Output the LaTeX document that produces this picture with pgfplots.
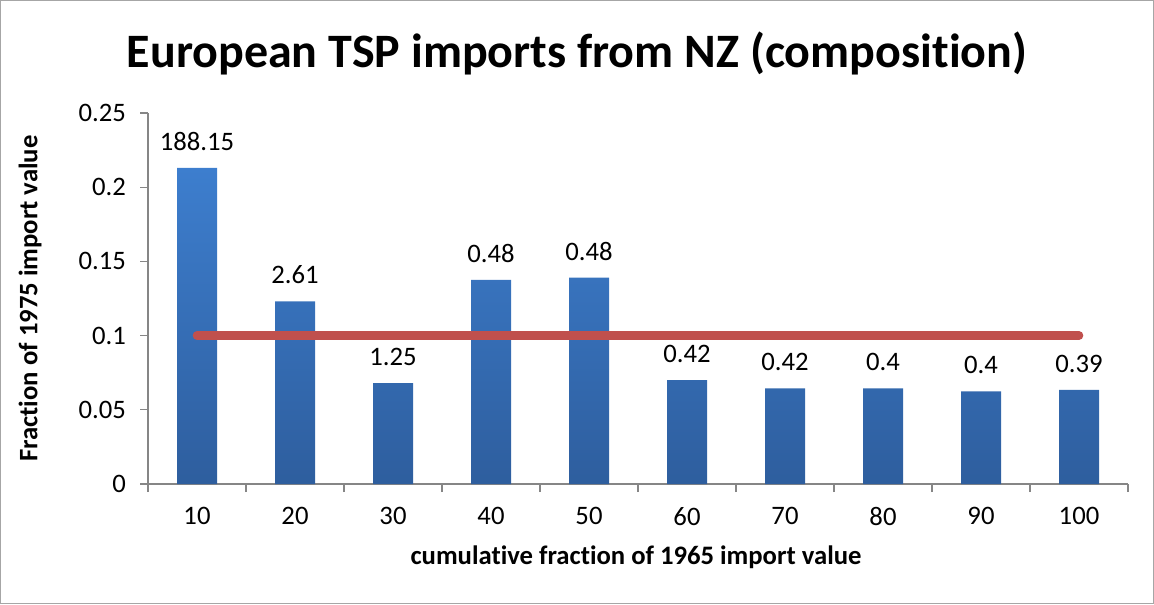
\documentclass[border=0pt]{standalone}
\usepackage{pgfplots}
\pgfplotsset{compat=1.18}
\usepackage{pgfplotstable}
\usepackage{fontspec}
\setmainfont{Carlito}[Ligatures=NoCommon]
\definecolor{barTop}{RGB}{61,126,206}
\definecolor{barBot}{RGB}{46,94,158}
\definecolor{redline}{RGB}{192,80,77}
\definecolor{axgray}{RGB}{134,134,134}
\pgfplotstableread{
x y lab
0 0.213 188.15
1 0.123 2.61
2 0.068 1.25
3 0.1375 0.48
4 0.139 0.48
5 0.070 0.42
6 0.0645 0.42
7 0.0645 0.4
8 0.0625 0.4
9 0.0635 0.39
}\datatable
\begin{document}
\begin{tikzpicture}
\useasboundingbox (0,0) rectangle (865.5pt,-453pt);
\draw[gray!70, line width=0.9pt] (0.6pt,-0.6pt) rectangle (864.9pt,-452.4pt);
\node[font=\fontsize{36}{40}\selectfont\bfseries] at (432.75pt,-39.75pt) {European TSP imports from NZ (composition)};
\node[font=\fontsize{20}{24}\selectfont\bfseries, rotate=90] at (22.5pt,-224pt) {Fraction of 1975 import value};
\node[font=\fontsize{20}{24}\selectfont\bfseries] at (477pt,-417.75pt) {cumulative fraction of 1965 import value};
\begin{axis}[
  at={(111pt,-363pt)}, anchor=south west,
  scale only axis, width=735pt, height=278.25pt,
  xmin=-0.5, xmax=9.5, ymin=0, ymax=0.25,
  axis lines*=left,
  axis line style={axgray, line width=0.9pt},
  every tick/.style={axgray, line width=0.9pt},
  tick align=outside,
  major tick length=6pt,
  xtick={-0.5,0.5,...,9.5}, xticklabels={},
  extra x ticks={0,1,2,3,4,5,6,7,8,9},
  extra x tick labels={10,20,30,40,50,60,70,80,90,100},
  extra x tick style={major tick length=0pt, xticklabel style={yshift=-14pt}},
  ytick={0,0.05,0.1,0.15,0.2,0.25},
  yticklabel style={/pgf/number format/fixed, /pgf/number format/precision=2, xshift=-7pt},
  /pgf/number format/assume math mode=true,
  tick label style={font=\fontsize{20}{24}\selectfont},
  clip=false,
]
\addplot[ybar, bar width=30pt, draw=none, top color=barTop, bottom color=barBot,
  point meta=explicit symbolic,
  nodes near coords,
  nodes near coords style={font=\fontsize{20}{24}\selectfont, black, yshift=9.5pt}]
  table[x=x, y=y, meta=lab] {\datatable};
\addplot[redline, line width=6.5pt, line cap=round] coordinates {(0,0.1) (9,0.1)};
\end{axis}
\end{tikzpicture}
\end{document}
